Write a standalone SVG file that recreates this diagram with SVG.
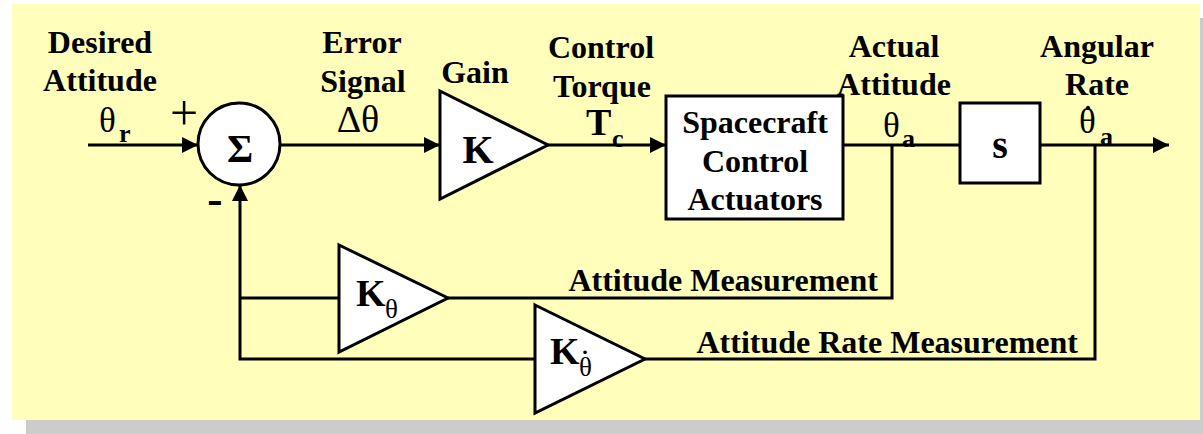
<svg xmlns="http://www.w3.org/2000/svg" width="1203" height="434" viewBox="0 0 1203 434">
<style>
.t{font-family:"Liberation Serif","Times New Roman",serif;font-weight:bold;font-size:32px;fill:#000;text-anchor:middle}
.g{font-family:"Liberation Serif","Times New Roman",serif;font-size:35px;fill:#000}
.sub{font-family:"Liberation Serif","Times New Roman",serif;font-weight:bold;font-size:26px;fill:#000}
.dot{font-weight:bold;text-anchor:middle}
.shape{fill:#fff;stroke:#000;stroke-width:3}
.ln{fill:none;stroke:#000;stroke-width:3}
</style>
<defs>
<marker id="arr" markerUnits="userSpaceOnUse" markerWidth="17" markerHeight="16" refX="16" refY="8" orient="auto">
<path d="M0,0 L16,8 L0,16 z" fill="#000"/>
</marker>
</defs>
<rect x="26" y="18" width="1177" height="416" fill="#CCCCCC"/>
<rect x="12" y="4" width="1188" height="416" fill="#FFFFBB"/>
<g id="connectors">
<path class="ln" d="M88,145 H198" marker-end="url(#arr)"/>
<path class="ln" d="M280,145 H440" marker-end="url(#arr)"/>
<path class="ln" d="M548,145 H666" marker-end="url(#arr)"/>
<path class="ln" d="M843,145 H960"/>
<path class="ln" d="M1040,145 H1169" marker-end="url(#arr)"/>
<path class="ln" d="M892,145 V298 H448"/>
<path class="ln" d="M1095,145 V359 H645"/>
<path class="ln" d="M339,298 H240"/>
<path class="ln" d="M535,359 H240 V185" marker-end="url(#arr)"/>
</g>
<g id="sum">
<circle class="shape" cx="239" cy="144" r="41"/>
<text class="t" x="240" y="162" style="font-size:40px">Σ</text>
</g>
<g id="gain">
<polygon class="shape" points="440,91 548,145 440,199"/>
<text class="t" x="478" y="163" style="font-size:40px">K</text>
</g>
<g id="plant">
<rect class="shape" x="666" y="96" width="177" height="123"/>
<text class="t" x="755" y="133">Spacecraft</text>
<text class="t" x="755" y="172">Control</text>
<text class="t" x="755" y="210">Actuators</text>
</g>
<g id="s">
<rect class="shape" x="960" y="103" width="80" height="80"/>
<text class="t" x="1000" y="158" style="font-size:40px">s</text>
</g>
<g id="ktheta">
<polygon class="shape" points="339,245 448,298 339,352"/>
<text class="t" x="356" y="306" style="font-size:38px;text-anchor:start">K</text>
<text class="g" x="385" y="318" style="font-size:27px">θ</text>
</g>
<g id="kthetadot">
<polygon class="shape" points="535,305 645,359 535,413"/>
<text class="t" x="550" y="364" style="font-size:38px;text-anchor:start">K</text>
<text class="g" x="579" y="376" style="font-size:27px">θ<tspan class="dot" x="585" y="367" style="font-size:24px">˙</tspan></text>
</g>
<g id="labels">
<text class="t" x="100" y="53">Desired</text>
<text class="t" x="100" y="91">Attitude</text>
<text class="g" x="99" y="132">θ</text>
<text class="sub" x="119" y="142">r</text>
<text class="g" x="184" y="130" style="font-size:50px;text-anchor:middle">+</text>
<text class="t" x="215" y="214" style="font-size:46px">-</text>
<text class="t" x="362" y="53">Error</text>
<text class="t" x="363" y="92">Signal</text>
<text class="g" x="358" y="132" style="font-size:38px;text-anchor:middle">Δθ</text>
<text class="t" x="475" y="83">Gain</text>
<text class="t" x="601" y="58">Control</text>
<text class="t" x="602" y="97">Torque</text>
<text class="t" x="586" y="135" style="font-size:38px;text-anchor:start">T</text>
<text class="sub" x="612" y="147">c</text>
<text class="t" x="894" y="57">Actual</text>
<text class="t" x="894" y="95">Attitude</text>
<text class="g" x="883" y="137">θ</text>
<text class="sub" x="902" y="147">a</text>
<text class="t" x="1097" y="57">Angular</text>
<text class="t" x="1097" y="95">Rate</text>
<text class="g" x="1079" y="133">θ<tspan class="dot" x="1088" y="125" style="font-size:28px">˙</tspan></text>
<text class="sub" x="1100" y="145">a</text>
<text class="t" x="878" y="291" style="text-anchor:end">Attitude Measurement</text>
<text class="t" x="1078" y="353" style="text-anchor:end">Attitude Rate Measurement</text>
</g>
</svg>
